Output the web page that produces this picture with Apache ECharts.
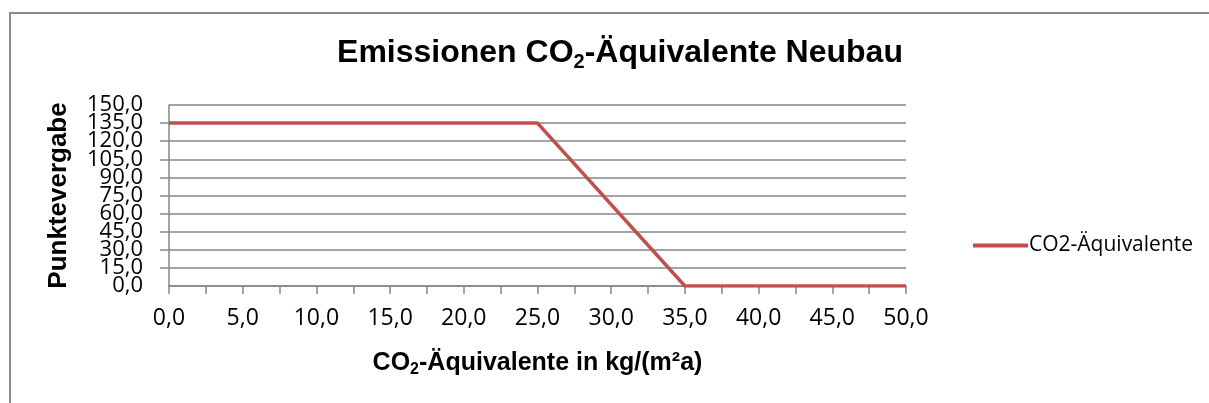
<!DOCTYPE html>
<html>
<head>
<meta charset="utf-8">
<script src="https://cdn.jsdelivr.net/npm/echarts@6/dist/echarts.min.js"></script>
<style>
  html, body { margin: 0; padding: 0; background: #fff; }
  #frame { position: absolute; left: 9px; top: 12px; width: 1200px; height: 391px;
           border-left: 2px solid #8c8c8c; border-top: 2px solid #8c8c8c; box-sizing: border-box; }
  #chart { width: 1209px; height: 403px; }
</style>
</head>
<body>
<div id="frame"></div>
<div id="chart"></div>
<script>
// Emissionen CO2-Äquivalente Neubau
var xWerte = [0, 25, 35, 50];
var punkte = [135, 135, 0, 0];
var serieName = 'CO2-Äquivalente';

function komma(v) {
    return v.toFixed(1).replace('.', ',');
}

var yLabel = {
    formatter: komma,
    margin: 26,
    fontFamily: 'Open Sans',
    fontSize: 22,
    color: '#000'
};

var chart = echarts.init(document.getElementById('chart'));

chart.setOption({
    animation: false,
    title: {
        text: '{a|Emissionen CO}{s|2}{a|-Äquivalente Neubau}',
        left: 615,
        top: 30,
        textAlign: 'center',
        textStyle: {
            rich: {
                a: { fontFamily: 'Liberation Sans', fontWeight: 'bold', fontSize: 32, color: '#000' },
                s: { fontFamily: 'Liberation Sans', fontWeight: 'bold', fontSize: 20, color: '#000', padding: [17, 0, 0, 0] }
            }
        }
    },
    legend: {
        data: [serieName],
        left: 968,
        top: 230,
        itemWidth: 55,
        itemHeight: 4,
        itemGap: 0,
        icon: 'rect',
        textStyle: { fontFamily: 'Open Sans', fontSize: 21, color: '#000', padding: [0, 0, 0, -4] }
    },
    grid: {
        left: 169,
        right: 303,
        top: 105,
        bottom: 117
    },
    xAxis: {
        type: 'value',
        min: 0,
        max: 50,
        interval: 5,
        name: '{a|CO}{s|2}{a|-Äquivalente in kg/(m²a)}',
        nameLocation: 'middle',
        nameGap: 63,
        nameTextStyle: {
            rich: {
                a: { fontFamily: 'Liberation Sans', fontWeight: 'bold', fontSize: 25, color: '#000' },
                s: { fontFamily: 'Liberation Sans', fontWeight: 'bold', fontSize: 16, color: '#000', padding: [13, 0, 0, 0] }
            }
        },
        axisLine: { lineStyle: { color: '#868686', width: 1.5 } },
        axisTick: { length: 8, lineStyle: { color: '#868686', width: 1.5 } },
        minorTick: { show: true, splitNumber: 2, length: 8, lineStyle: { color: '#868686', width: 1.5 } },
        splitLine: { show: false },
        axisLabel: {
            formatter: komma,
            margin: 21,
            fontFamily: 'Open Sans',
            fontSize: 23,
            color: '#000'
        }
    },
    yAxis: [
        {
            type: 'value',
            min: 0,
            max: 150,
            interval: 15,
            name: 'Punktevergabe',
            nameLocation: 'middle',
            nameRotate: 90,
            nameGap: 97,
            nameTextStyle: { fontFamily: 'Liberation Sans', fontWeight: 'bold', fontSize: 26, color: '#000' },
            axisLine: { show: true, lineStyle: { color: '#868686', width: 1.5 } },
            axisTick: { show: true, length: 9, lineStyle: { color: '#868686', width: 1.5 } },
            splitLine: { lineStyle: { color: '#868686', width: 1.5 } },
            axisLabel: Object.assign({ showMinLabel: false, showMaxLabel: false }, yLabel)
        },
        {
            // nur 0,0 und 150,0 (sonst blendet ECharts die Nachbarn aus)
            type: 'value',
            position: 'left',
            min: 0,
            max: 150,
            interval: 150,
            axisLine: { show: false },
            axisTick: { show: false },
            splitLine: { show: false },
            axisLabel: Object.assign({ showMinLabel: true, showMaxLabel: true }, yLabel)
        }
    ],
    series: [
        {
            name: serieName,
            type: 'line',
            yAxisIndex: 0,
            data: xWerte.map(function (x, i) { return [x, punkte[i]]; }),
            showSymbol: false,
            color: '#C0504D',
            lineStyle: { color: '#C0504D', width: 3.5 }
        }
    ]
});
</script>
</body>
</html>
